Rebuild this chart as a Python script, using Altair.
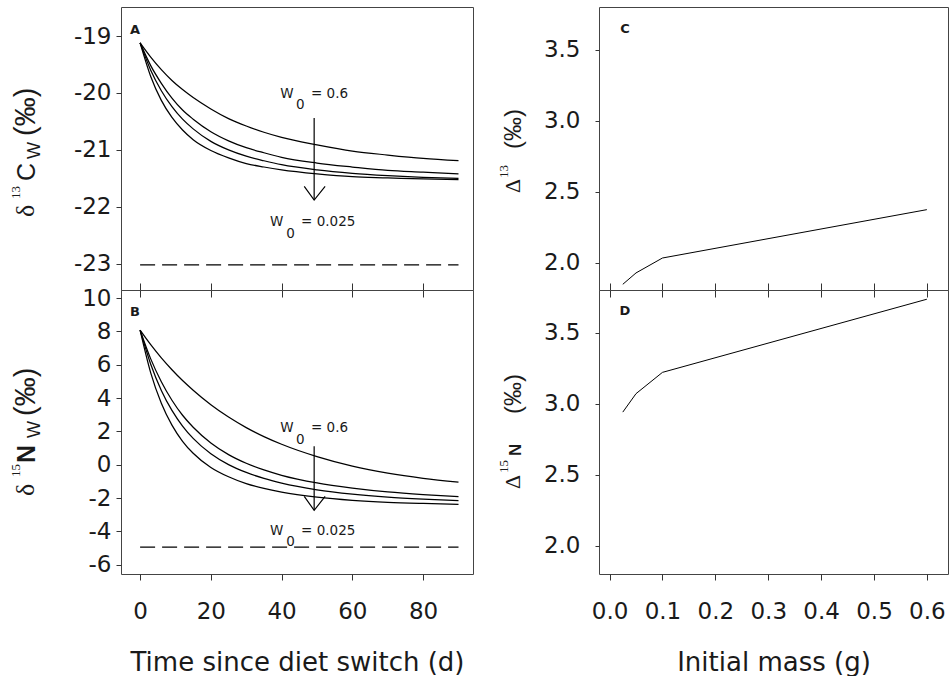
import altair as alt
import pandas as pd

# ---------------- data ----------------
t_days = [0, 3, 6, 9, 12, 15, 20, 25, 30, 35, 40, 50, 60, 70, 80, 90]

d13c_w0600 = [-19.12, -19.37, -19.59, -19.78, -19.94, -20.08, -20.28, -20.45, -20.58, -20.69, -20.78, -20.91, -21.02, -21.09, -21.15, -21.19]
d13c_w0100 = [-19.12, -19.52, -19.83, -20.09, -20.30, -20.46, -20.68, -20.84, -20.96, -21.05, -21.13, -21.23, -21.30, -21.36, -21.39, -21.42]
d13c_w0050 = [-19.12, -19.60, -19.96, -20.24, -20.46, -20.63, -20.85, -21.00, -21.11, -21.19, -21.26, -21.35, -21.41, -21.45, -21.48, -21.50]
d13c_w0025 = [-19.12, -19.71, -20.13, -20.43, -20.65, -20.82, -21.01, -21.14, -21.24, -21.30, -21.35, -21.42, -21.47, -21.49, -21.51, -21.52]

d15n_w0600 = [8.07, 7.20, 6.41, 5.70, 5.05, 4.47, 3.60, 2.86, 2.23, 1.69, 1.23, 0.49, -0.08, -0.50, -0.81, -1.04]
d15n_w0100 = [8.07, 6.35, 4.98, 3.87, 2.97, 2.25, 1.31, 0.61, 0.09, -0.31, -0.63, -1.09, -1.40, -1.63, -1.79, -1.91]
d15n_w0050 = [8.07, 6.03, 4.46, 3.26, 2.32, 1.58, 0.66, 0.01, -0.46, -0.82, -1.10, -1.50, -1.76, -1.94, -2.06, -2.15]
d15n_w0025 = [8.07, 5.51, 3.69, 2.38, 1.41, 0.69, -0.16, -0.72, -1.13, -1.42, -1.64, -1.94, -2.13, -2.25, -2.32, -2.37]

diet_t = [0, 90]
diet_d13c = -23.02
diet_d15n = -4.94

mass_g = [0.025, 0.05, 0.1, 0.6]
tdf_13c = [1.85, 1.93, 2.035, 2.375]
tdf_15n = [2.94, 3.07, 3.22, 3.735]

# annotation (W0 labels and arrows) anchored in data units
lab_text = ["W", "0", "= 0.6", "W", "0", "= 0.025"]
lab_t = [39.6, 44.1, 48.3, 36.7, 41.3, 45.5]
labA_v = [-20.09, -20.28, -20.09, -22.33, -22.54, -22.33]
labB_v = [1.95, 1.27, 1.95, -4.23, -4.89, -4.23]

arrow_t = 49.2
arrow_head_t = [46.4, 49.2, 52.3]
arrowA_shaft = [-20.44, -21.88]
arrowA_head = [-21.64, -21.88, -21.64]
arrowB_shaft = [1.11, -2.73]
arrowB_head = [-1.90, -2.73, -1.90]

time_ticks = [0, 20, 40, 60, 80]
mass_ticks = [0.0, 0.1, 0.2, 0.3, 0.4, 0.5, 0.6]

INK = "#1a1a1a"
one = pd.DataFrame({"k": [0]})


def txt(s, x, y, size, font="Liberation Sans", weight="normal", angle=270,
        align="left", baseline="alphabetic"):
    return alt.Chart(one).mark_text(
        text=s, font=font, fontSize=size, fontWeight=weight, angle=angle,
        align=align, baseline=baseline, color=INK
    ).encode(x=alt.value(x), y=alt.value(y))


def time_panel(series, diet, ydom, yvals, lab_v, shaft, head, letter, title_layers,
               bottom, height):
    if bottom:
        xaxis = alt.Axis(values=time_ticks, tickSize=6, labelPadding=20, format="d",
                         title="Time since diet switch (d)", titlePadding=26)
    else:
        xaxis = alt.Axis(values=time_ticks, labels=False, tickSize=14, offset=-7,
                         title=None, domain=False)
    X = alt.X("t:Q", scale=alt.Scale(domain=[-5.4, 94.1], nice=False, zero=False), axis=xaxis)
    Y = alt.Y("v:Q", scale=alt.Scale(domain=ydom, nice=False, zero=False),
              axis=alt.Axis(values=yvals, tickSize=5, labelPadding=5,
                            labelExpr="datum.value + ''", title=None))
    rows = []
    for name, vals in series:
        for tt, vv in zip(t_days, vals):
            rows.append({"w0": name, "t": tt, "v": vv})
    curves = alt.Chart(pd.DataFrame(rows)).mark_line(
        color="black", strokeWidth=1.25, interpolate="monotone"
    ).encode(x=X, y=Y, detail="w0:N")
    dash = alt.Chart(pd.DataFrame({"t": diet_t, "v": [diet, diet]})).mark_line(
        color="black", strokeWidth=1.2, strokeDash=[15, 7]
    ).encode(x=X, y=Y)
    shaft_l = alt.Chart(pd.DataFrame({"t": [arrow_t], "v": [shaft[0]], "v2": [shaft[1]]})).mark_rule(
        color="black", strokeWidth=1.2
    ).encode(x=X, y=Y, y2="v2:Q")
    head_l = alt.Chart(pd.DataFrame({"t": arrow_head_t, "v": head, "o": [0, 1, 2]})).mark_line(
        color="black", strokeWidth=1.2
    ).encode(x=X, y=Y, order="o:Q")
    labels = alt.Chart(pd.DataFrame({"t": lab_t, "v": lab_v, "s": lab_text})).mark_text(
        font="DejaVu Sans", fontSize=13.5, align="left", baseline="alphabetic", color=INK
    ).encode(x=X, y=Y, text="s:N")
    let = txt(letter, 14, 23 if letter == "A" else 22, 13, font="DejaVu Sans", weight="bold",
              angle=0, align="center", baseline="middle")
    return alt.layer(curves, dash, shaft_l, head_l, labels, let, *title_layers).properties(
        width=352, height=height)


def mass_panel(vals, ydom, letter, title_layers, bottom, height, ly):
    if bottom:
        xaxis = alt.Axis(values=mass_ticks, tickSize=6, labelPadding=20, format=".1f",
                         title="Initial mass (g)", titlePadding=26)
    else:
        xaxis = alt.Axis(values=mass_ticks, labels=False, tickSize=14, offset=-7,
                         title=None, domain=False)
    X = alt.X("m:Q", scale=alt.Scale(domain=[-0.02, 0.64], nice=False, zero=False), axis=xaxis)
    Y = alt.Y("d:Q", scale=alt.Scale(domain=ydom, nice=False, zero=False),
              axis=alt.Axis(values=[2.0, 2.5, 3.0, 3.5], format=".1f", tickSize=4,
                            labelPadding=15, title=None))
    line = alt.Chart(pd.DataFrame({"m": mass_g, "d": vals})).mark_line(
        color="black", strokeWidth=1.0
    ).encode(x=X, y=Y)
    let = txt(letter, 26, ly, 13, font="DejaVu Sans", weight="bold",
              angle=0, align="center", baseline="middle")
    return alt.layer(line, let, *title_layers).properties(width=349, height=height)


titleA = [
    txt("δ", -87, 210, 26, font="Liberation Serif"),
    txt("13", -101, 192, 13, font="Liberation Serif"),
    txt("C", -86, 174, 25),
    txt("W", -81, 152, 18),
    txt("(‰)", -86, 129, 29),
]
titleB = [
    txt("δ", -87, 206, 26, font="Liberation Serif"),
    txt("15", -101, 187, 13, font="Liberation Serif"),
    txt("N", -86, 173, 25, weight="bold"),
    txt("W", -81, 148, 18),
    txt("(‰)", -86, 126, 29),
]
titleC = [
    txt("Δ", -79, 186, 22, font="Liberation Serif"),
    txt("13", -91, 171, 13, font="Liberation Serif"),
    txt("(‰)", -78, 142, 24),
]
titleD = [
    txt("Δ", -79, 199, 22, font="Liberation Serif"),
    txt("15", -91, 183, 13, font="Liberation Serif"),
    txt("N", -78, 166, 17, weight="bold"),
    txt("(‰)", -78, 124, 24),
]

pA = time_panel([("0.6", d13c_w0600), ("0.1", d13c_w0100), ("0.05", d13c_w0050), ("0.025", d13c_w0025)],
                diet_d13c, [-23.46, -18.49], [-23, -22, -21, -20, -19], labA_v,
                arrowA_shaft, arrowA_head, "A", titleA, False, 283)
pB = time_panel([("0.6", d15n_w0600), ("0.1", d15n_w0100), ("0.05", d15n_w0050), ("0.025", d15n_w0025)],
                diet_d15n, [-6.55, 10.48], [-6, -4, -2, 0, 2, 4, 6, 8, 10], labB_v,
                arrowB_shaft, arrowB_head, "B", titleB, True, 284)
pC = mass_panel(tdf_13c, [1.81, 3.80], "C", titleC, False, 283, 22)
pD = mass_panel(tdf_15n, [1.80, 3.80], "D", titleD, True, 284, 21)

chart = alt.concat(pA, pC, pB, pD, columns=2,
                   spacing={"row": 0, "column": 126}, bounds="flush").properties(
    padding={"left": 9, "top": 6, "right": 0, "bottom": 0},
    background="white",
).configure_view(
    stroke="#444", strokeWidth=1
).configure_axis(
    labelFont="DejaVu Sans", labelFontSize=23, labelColor=INK,
    tickColor="#333", tickWidth=1, grid=False, domain=False,
    titleFont="DejaVu Sans", titleFontSize=26, titleFontWeight="normal", titleColor=INK,
)

chart.save("out.html", embed_options={"renderer": "svg", "actions": False})
